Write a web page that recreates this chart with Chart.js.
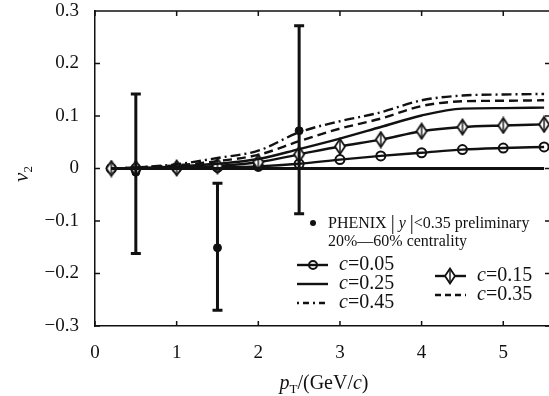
<!DOCTYPE html>
<html>
<head>
<meta charset="utf-8">
<script src="https://cdn.jsdelivr.net/npm/chart.js@4"></script>
<style>
  html, body { margin: 0; padding: 0; background: #fff; }
  #wrap { width: 549px; height: 396px; position: relative; }
</style>
</head>
<body>
<div id="wrap"><canvas id="v2Chart"></canvas></div>
<script>
// model curves, sampled at the marker positions
const ptValues = [0.2, 0.5, 1.0, 1.5, 2.0, 2.5, 3.0, 3.5, 4.0, 4.5, 5.0, 5.5];
const v2c005 = [0, 0, 0.001, 0.002, 0.004, 0.009, 0.017, 0.024, 0.030, 0.036, 0.039, 0.041];
const v2c015 = [0, 0, 0.001, 0.005, 0.012, 0.027, 0.042, 0.055, 0.071, 0.079, 0.082, 0.084];
const v2c025 = [0, 0.001, 0.004, 0.009, 0.018, 0.037, 0.057, 0.079, 0.101, 0.114, 0.115, 0.116];
const v2c035 = [0, 0.002, 0.006, 0.014, 0.026, 0.052, 0.076, 0.095, 0.119, 0.128, 0.129, 0.130];
const v2c045 = [0, 0.002, 0.008, 0.020, 0.034, 0.069, 0.090, 0.107, 0.130, 0.139, 0.141, 0.142];
const v2zero = [0, 0, 0, 0, 0, 0, 0, 0, 0, 0, 0, 0];

// PHENIX preliminary data with error bars
const phenixPt = [0.5, 1.5, 2.5];
const phenixV2 = [-0.007, -0.151, 0.072];
const phenixHigh = [0.142, -0.028, 0.272];
const phenixLow = [-0.162, -0.27, -0.086];

const xTicks = [0, 1, 2, 3, 4, 5];
const yTicks = [-0.3, -0.2, -0.1, 0, 0.1, 0.2, 0.3];

const SERIF = "'Liberation Serif', 'Times New Roman', serif";
const INK = "#111";

function pts(xs, ys) {
  return xs.map((x, i) => ({ x: x, y: ys[i] }));
}

// tall diamond marker with a vertical stroke through it
function makeDiamond() {
  const c = document.createElement("canvas");
  c.width = 14; c.height = 18;
  const g = c.getContext("2d");
  g.strokeStyle = INK;
  g.lineWidth = 1.8;
  g.beginPath();
  g.moveTo(7, 1.5); g.lineTo(12, 9); g.lineTo(7, 16.5); g.lineTo(2, 9); g.closePath();
  g.fillStyle = "#fff";
  g.fill();
  g.stroke();
  g.lineWidth = 1.4;
  g.beginPath(); g.moveTo(7, 3); g.lineTo(7, 15); g.stroke();
  return c;
}
const diamondImg = makeDiamond();

function curve(label, ys, extra) {
  return Object.assign({
    label: label,
    data: pts(ptValues, ys),
    showLine: true,
    borderColor: INK,
    backgroundColor: INK,
    borderWidth: 2.4,
    pointRadius: 0,
    cubicInterpolationMode: "monotone"
  }, extra);
}

const datasets = [
  curve("zero", v2zero, { borderWidth: 2.8 }),
  curve("c=0.45", v2c045, { borderDash: [10, 4, 2, 4] }),
  curve("c=0.35", v2c035, { borderDash: [9, 5] }),
  curve("c=0.25", v2c025, {}),
  curve("c=0.15", v2c015, { pointStyle: diamondImg, pointRadius: 7 }),
  curve("c=0.05", v2c005, { pointStyle: "circle", pointRadius: 4.5, pointBorderWidth: 2, pointBackgroundColor: "rgba(255,255,255,0)" }),
  {
    label: "PHENIX",
    data: pts(phenixPt, phenixV2),
    showLine: false,
    pointRadius: 4,
    pointBackgroundColor: INK,
    pointBorderColor: INK
  }
];

const errorBars = {
  id: "errorBars",
  afterDatasetsDraw(chart) {
    const { ctx, scales: { x, y } } = chart;
    ctx.save();
    ctx.strokeStyle = INK;
    ctx.lineWidth = 3;
    phenixPt.forEach((pt, i) => {
      const px = x.getPixelForValue(pt);
      const top = y.getPixelForValue(phenixHigh[i]);
      const bot = y.getPixelForValue(phenixLow[i]);
      ctx.beginPath();
      ctx.moveTo(px, top); ctx.lineTo(px, bot);
      ctx.moveTo(px - 5, top); ctx.lineTo(px + 5, top);
      ctx.moveTo(px - 5, bot); ctx.lineTo(px + 5, bot);
      ctx.stroke();
    });
    ctx.restore();
  }
};

function drawText(ctx, parts, x, y) {
  // parts: [text, size, italic, dy]
  let cx = x;
  parts.forEach(p => {
    ctx.font = (p[2] ? "italic " : "") + p[1] + "px " + SERIF;
    ctx.fillText(p[0], cx, y + (p[3] || 0));
    cx += ctx.measureText(p[0]).width;
  });
  return cx - x;
}

function measureParts(ctx, parts) {
  let w = 0;
  parts.forEach(p => {
    ctx.font = (p[2] ? "italic " : "") + p[1] + "px " + SERIF;
    w += ctx.measureText(p[0]).width;
  });
  return w;
}

const frame = {
  id: "frame",
  afterDraw(chart) {
    const { ctx, chartArea: a, scales: { x, y } } = chart;
    ctx.save();
    ctx.strokeStyle = INK;
    ctx.fillStyle = INK;
    ctx.lineWidth = 1.5;
    // top border plus inward ticks on all four sides
    ctx.beginPath();
    ctx.moveTo(a.left, a.top); ctx.lineTo(a.right, a.top);
    xTicks.forEach(v => {
      const px = x.getPixelForValue(v);
      ctx.moveTo(px, a.bottom); ctx.lineTo(px, a.bottom - 5);
      ctx.moveTo(px, a.top); ctx.lineTo(px, a.top + 5);
    });
    yTicks.forEach(v => {
      const py = y.getPixelForValue(v);
      ctx.moveTo(a.left, py); ctx.lineTo(a.left + 5, py);
      ctx.moveTo(a.right, py); ctx.lineTo(a.right - 4, py);
    });
    ctx.stroke();

    // axis titles
    ctx.textBaseline = "alphabetic";
    const xt = [["p", 20, true], ["T", 13, false, 4], ["/(GeV/", 20, false], ["c", 20, true], [")", 20, false]];
    const xw = measureParts(ctx, xt);
    drawText(ctx, xt, 324 - xw / 2, 389);

    ctx.save();
    ctx.translate(28, 174);
    ctx.rotate(-Math.PI / 2);
    const yt = [["v", 21, true], ["2", 13, false, 4]];
    const yw = measureParts(ctx, yt);
    drawText(ctx, yt, -yw / 2, 0);
    ctx.restore();

    // legend
    ctx.beginPath();
    ctx.arc(313, 223, 3, 0, Math.PI * 2);
    ctx.fill();
    ctx.textBaseline = "middle";
    drawText(ctx, [["PHENIX ", 16], ["|", 20], [" y ", 16, true], ["|", 20], ["<0.35 preliminary", 16]], 328, 224);
    drawText(ctx, [["20%\u201460% centrality", 16]], 328, 242);

    const entry = (x0, yy, dash, marker, label) => {
      ctx.save();
      ctx.lineWidth = 2.4;
      ctx.setLineDash(dash);
      ctx.beginPath();
      ctx.moveTo(x0, yy); ctx.lineTo(x0 + 31, yy);
      ctx.stroke();
      ctx.restore();
      if (marker === "circle") {
        ctx.save();
        ctx.lineWidth = 2;
        ctx.beginPath(); ctx.arc(x0 + 16, yy, 4, 0, Math.PI * 2); ctx.stroke();
        ctx.restore();
      } else if (marker === "diamond") {
        ctx.drawImage(diamondImg, x0 + 15 - 7, yy - 9);
      }
      drawText(ctx, [["c", 20, true], ["=" + label, 20]], x0 + 42, yy);
    };
    entry(297, 265, [], "circle", "0.05");
    entry(297, 284, [], null, "0.25");
    entry(297, 303, [2, 4, 6, 4], null, "0.45");
    entry(435, 276, [], "diamond", "0.15");
    entry(435, 295, [6, 4], null, "0.35");
    ctx.restore();
  }
};

new Chart(document.getElementById("v2Chart"), {
  type: "scatter",
  data: { datasets: datasets },
  options: {
    responsive: true,
    maintainAspectRatio: false,
    animation: false,
    layout: { autoPadding: false, padding: { top: 11, right: 0, left: 0, bottom: 0 } },
    plugins: { legend: { display: false }, tooltip: { enabled: false } },
    scales: {
      x: {
        type: "linear",
        min: 0,
        max: 5.56,
        afterFit: s => { s.height = 70; s.paddingLeft = 0; s.paddingRight = 0; },
        afterBuildTicks: s => { s.ticks = xTicks.map(v => ({ value: v })); },
        grid: { display: false },
        border: { display: true, color: INK, width: 1.5 },
        ticks: {
          color: INK,
          padding: 8,
          font: { family: SERIF, size: 19 },
          callback: v => String(v)
        }
      },
      y: {
        min: -0.3,
        max: 0.3,
        afterFit: s => { s.width = 95; s.paddingTop = 0; s.paddingBottom = 0; },
        afterBuildTicks: s => { s.ticks = yTicks.map(v => ({ value: v })); },
        grid: { display: false },
        border: { display: true, color: INK, width: 1.5 },
        ticks: {
          color: INK,
          padding: 8,
          font: { family: SERIF, size: 19 },
          callback: v => {
            const r = Math.round(v * 10) / 10;
            if (r === 0) return "0";
            return r < 0 ? "\u2212" + Math.abs(r).toFixed(1) : r.toFixed(1);
          }
        }
      }
    }
  },
  plugins: [errorBars, frame]
});
</script>
</body>
</html>
